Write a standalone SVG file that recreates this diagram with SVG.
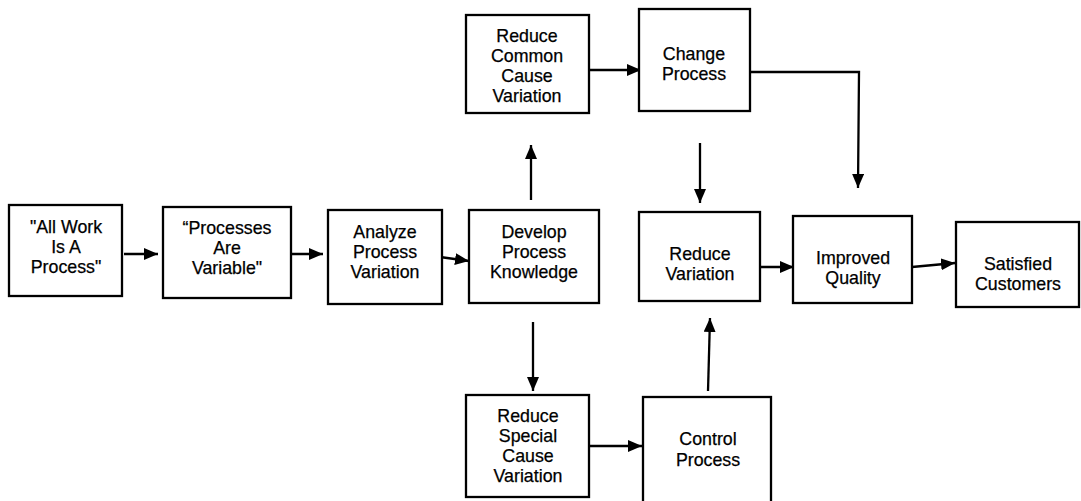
<svg xmlns="http://www.w3.org/2000/svg" width="1081" height="501" viewBox="0 0 1081 501">
<defs>
<marker id="ah" viewBox="0 0 14 12" refX="14" refY="6" markerWidth="14" markerHeight="12" markerUnits="userSpaceOnUse" orient="auto">
<path d="M0,0 L14,6 L0,12 z" fill="#000"/>
</marker>
<style>
.box{fill:#fff;stroke:#000;stroke-width:2.3}
.t{font-family:"Liberation Sans",Arial,sans-serif;font-size:17.8px;fill:#000;stroke:#000;stroke-width:0.25;text-anchor:middle}
.c{fill:none;stroke:#000;stroke-width:2.3;marker-end:url(#ah)}
</style>
</defs>
<rect width="1081" height="501" fill="#fff"/>
<g id="connectors">
<line class="c" x1="124" y1="254" x2="158" y2="254"/>
<line class="c" x1="290" y1="254" x2="323" y2="254"/>
<line class="c" x1="440" y1="257" x2="469" y2="261"/>
<line class="c" x1="531" y1="200" x2="531" y2="145"/>
<line class="c" x1="589" y1="70" x2="641" y2="70"/>
<path class="c" d="M750,72 L859,72 L858,188"/>
<line class="c" x1="700" y1="143" x2="700" y2="203"/>
<line class="c" x1="533" y1="322" x2="533" y2="391"/>
<line class="c" x1="587" y1="446" x2="642" y2="446"/>
<line class="c" x1="708" y1="391" x2="710" y2="318"/>
<line class="c" x1="760" y1="267" x2="794" y2="267"/>
<line class="c" x1="912" y1="267" x2="955" y2="263"/>
</g>
<g id="n1">
<rect class="box" x="9" y="205" width="113" height="91"/>
<text class="t" x="66" y="233">"All Work</text>
<text class="t" x="66" y="253">Is A</text>
<text class="t" x="66" y="273">Process"</text>
</g>
<g id="n2">
<rect class="box" x="163" y="207" width="128" height="91"/>
<text class="t" x="227" y="234">“Processes</text>
<text class="t" x="227" y="254">Are</text>
<text class="t" x="227" y="274">Variable"</text>
</g>
<g id="n3">
<rect class="box" x="328" y="210" width="114" height="94"/>
<text class="t" x="385" y="238">Analyze</text>
<text class="t" x="385" y="258">Process</text>
<text class="t" x="385" y="278">Variation</text>
</g>
<g id="n4">
<rect class="box" x="469" y="210" width="130" height="93"/>
<text class="t" x="534" y="238">Develop</text>
<text class="t" x="534" y="258">Process</text>
<text class="t" x="534" y="278">Knowledge</text>
</g>
<g id="n5">
<rect class="box" x="466" y="15" width="123" height="98"/>
<text class="t" x="527" y="42">Reduce</text>
<text class="t" x="527" y="62">Common</text>
<text class="t" x="527" y="82">Cause</text>
<text class="t" x="527" y="102">Variation</text>
</g>
<g id="n6">
<rect class="box" x="639" y="9" width="111" height="102"/>
<text class="t" x="694" y="60">Change</text>
<text class="t" x="694" y="80">Process</text>
</g>
<g id="n7">
<rect class="box" x="639" y="212" width="121" height="89"/>
<text class="t" x="700" y="260">Reduce</text>
<text class="t" x="700" y="280">Variation</text>
</g>
<g id="n8">
<rect class="box" x="793" y="216" width="119" height="87"/>
<text class="t" x="853" y="264">Improved</text>
<text class="t" x="853" y="284">Quality</text>
</g>
<g id="n9">
<rect class="box" x="956" y="222" width="123" height="85"/>
<text class="t" x="1018" y="270">Satisfied</text>
<text class="t" x="1018" y="290">Customers</text>
</g>
<g id="n10">
<rect class="box" x="466" y="395" width="123" height="102"/>
<text class="t" x="528" y="422">Reduce</text>
<text class="t" x="528" y="442">Special</text>
<text class="t" x="528" y="462">Cause</text>
<text class="t" x="528" y="482">Variation</text>
</g>
<g id="n11">
<rect class="box" x="643" y="397" width="128" height="106"/>
<text class="t" x="708" y="445">Control</text>
<text class="t" x="708" y="466">Process</text>
</g>
</svg>
